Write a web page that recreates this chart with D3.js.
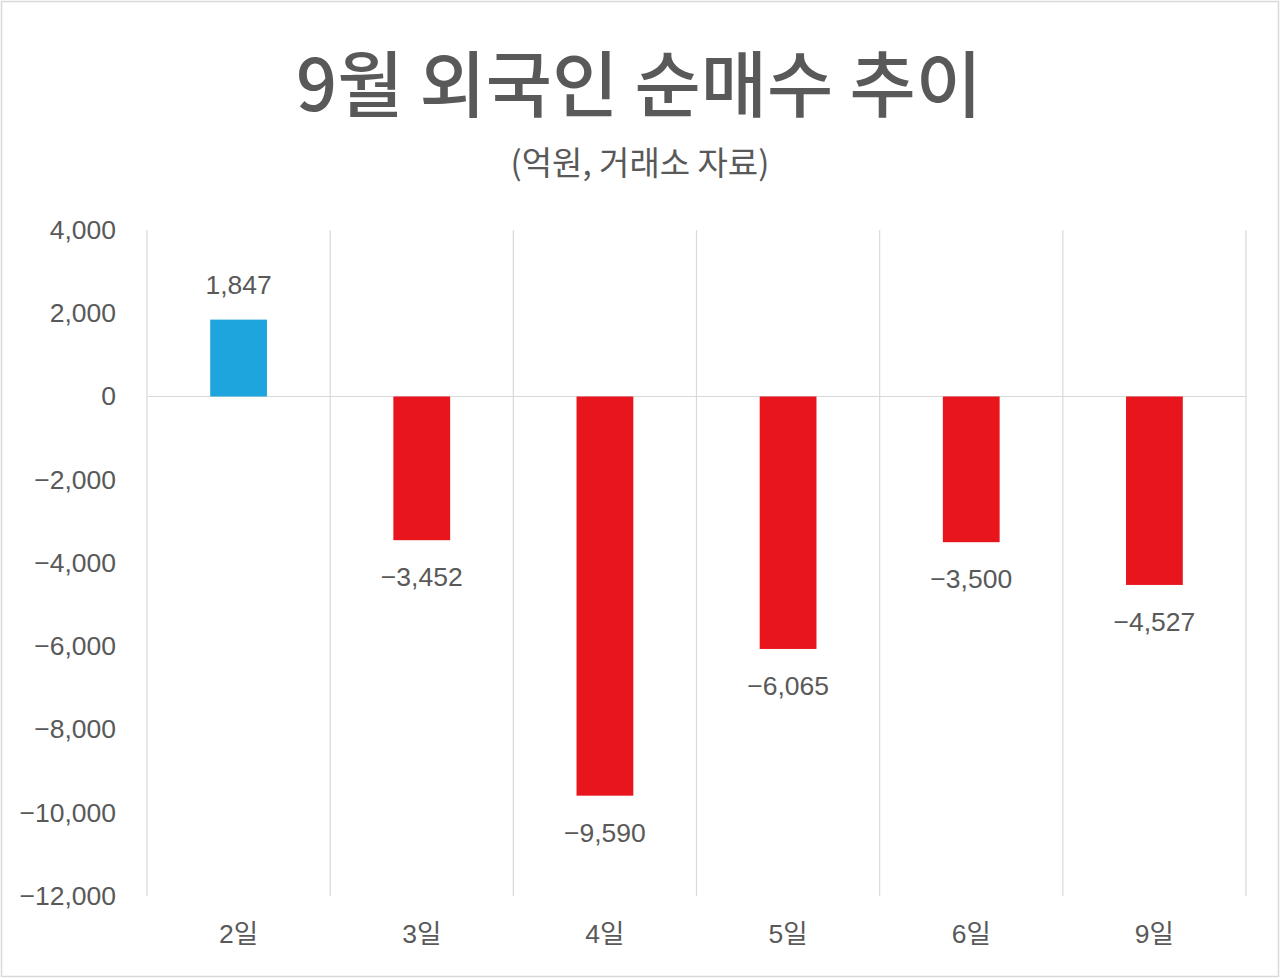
<!DOCTYPE html>
<html>
<head>
<meta charset="utf-8">
<script src="https://cdn.jsdelivr.net/npm/d3@7"></script>
<style>
  body { margin: 0; background: #fff; }
  svg { display: block; }
  text { font-family: "Liberation Sans", "Noto Sans CJK KR", sans-serif; fill: #595959; }
  .kr { font-family: "Noto Sans CJK KR", sans-serif; }
</style>
</head>
<body>
<svg id="chart"></svg>
<script>
const days = ['2일', '3일', '4일', '5일', '6일', '9일'];
const netBuy = [1847, -3452, -9590, -6065, -3500, -4527];
const yTicks = [4000, 2000, 0, -2000, -4000, -6000, -8000, -10000, -12000];
const titleText = '9월 외국인 순매수 추이';
const subtitleText = '(억원, 거래소 자료)';

const width = 1280;
const height = 978;
const margin = { top: 230, right: 34, bottom: 82, left: 147 };
const blue = '#1fa5de';
const red = '#e8161c';
const gridColour = '#d9d9d9';

const fmt = (v) => (v < 0 ? '\u2212' : '') + d3.format(',')(Math.abs(v));

const svg = d3.select('#chart').attr('width', width).attr('height', height);

// outer frame
svg.append('rect')
  .attr('x', 1.5).attr('y', 1.5)
  .attr('width', width - 3).attr('height', height - 3)
  .attr('fill', '#fff')
  .attr('stroke', '#d9d9d9')
  .attr('stroke-width', 1.5);

svg.append('text')
  .attr('class', 'kr')
  .attr('x', 639).attr('y', 111)
  .attr('text-anchor', 'middle')
  .attr('font-size', 72)
  .attr('font-weight', 500)
  .text(titleText);

svg.append('text')
  .attr('class', 'kr')
  .attr('x', 640).attr('y', 175)
  .attr('text-anchor', 'middle')
  .attr('font-size', 33)
  .text(subtitleText);

const plotW = width - margin.left - margin.right;
const plotH = height - margin.top - margin.bottom;

const x = d3.scaleBand().domain(days).range([0, plotW]).padding(0);
const y = d3.scaleLinear().domain([-12000, 4000]).range([plotH, 0]);

const g = svg.append('g')
  .attr('transform', 'translate(' + margin.left + ',' + margin.top + ')');

// vertical grid lines at category boundaries
const bounds = days.map((d) => x(d)).concat([plotW]);
g.selectAll('.vgrid')
  .data(bounds)
  .enter().append('line')
  .attr('class', 'vgrid')
  .attr('x1', (d) => d).attr('x2', (d) => d)
  .attr('y1', 0).attr('y2', plotH)
  .attr('stroke', gridColour)
  .attr('stroke-width', 1.2);

// zero line
g.append('line')
  .attr('x1', 0).attr('x2', plotW)
  .attr('y1', y(0)).attr('y2', y(0))
  .attr('stroke', gridColour)
  .attr('stroke-width', 1.2);

// y axis labels
const yAxis = d3.axisLeft(y)
  .tickValues(yTicks)
  .tickSize(0)
  .tickPadding(31)
  .tickFormat(fmt);
const axisY = g.append('g').call(yAxis);
axisY.select('.domain').remove();
axisY.selectAll('text')
  .attr('font-size', 26.5)
  .attr('fill', '#595959')
  .style('font-family', '"Liberation Sans", sans-serif');

// x axis labels
const xAxis = d3.axisBottom(x).tickSize(0).tickPadding(28);
const axisX = g.append('g').attr('transform', 'translate(0,' + plotH + ')').call(xAxis);
axisX.select('.domain').remove();
axisX.selectAll('text')
  .attr('font-size', 26.5)
  .attr('fill', '#595959')
  .style('font-family', '"Liberation Sans", "Noto Sans CJK KR", sans-serif');

// bars
const barW = x.bandwidth() * 0.31;
const rows = days.map((d, i) => ({ day: d, value: netBuy[i] }));

g.selectAll('.bar')
  .data(rows)
  .enter().append('rect')
  .attr('class', 'bar')
  .attr('x', (d) => x(d.day) + (x.bandwidth() - barW) / 2)
  .attr('y', (d) => y(Math.max(0, d.value)))
  .attr('width', barW)
  .attr('height', (d) => Math.abs(y(d.value) - y(0)))
  .attr('fill', (d) => (d.value >= 0 ? blue : red));

// value labels
g.selectAll('.label')
  .data(rows)
  .enter().append('text')
  .attr('class', 'label')
  .attr('x', (d) => x(d.day) + x.bandwidth() / 2)
  .attr('y', (d) => (d.value >= 0 ? y(d.value) - 26 : y(d.value) + 46))
  .attr('text-anchor', 'middle')
  .attr('font-size', 26.5)
  .attr('fill', '#404040')
  .text((d) => fmt(d.value));
</script>
</body>
</html>
